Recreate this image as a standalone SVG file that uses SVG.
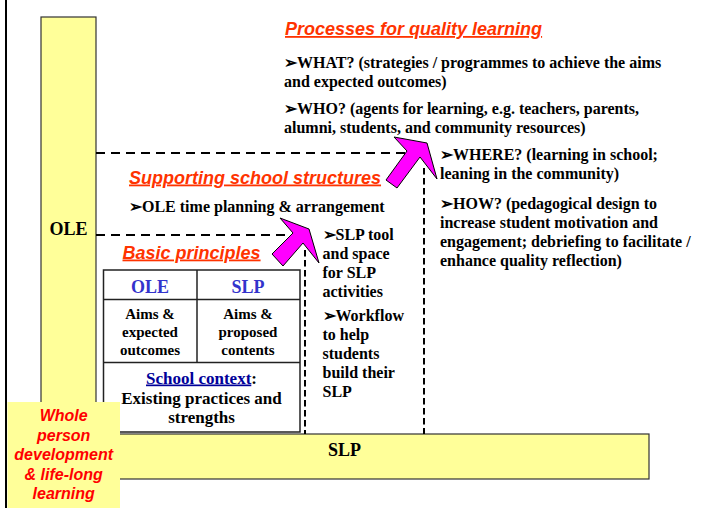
<svg xmlns="http://www.w3.org/2000/svg" width="719" height="508" viewBox="0 0 719 508">
<style>
.bar{fill:#FFFF99;stroke:#333;stroke-width:1.2}
.t{font-family:"Liberation Serif","Times New Roman",serif;font-weight:bold;fill:#000}
.t16{font-size:16px}
.t15{font-size:15px}
.t17{font-size:17px}
.t18{font-size:18px}
.h{font-family:"Liberation Sans",Arial,sans-serif;font-weight:bold;font-style:italic;font-size:18px;fill:#FF3300;text-decoration:underline}
.wp{font-family:"Liberation Sans",Arial,sans-serif;font-weight:bold;font-style:italic;font-size:16px;fill:#FF0000}
.blue{fill:#3333CC}
.dh{stroke:#000;stroke-width:2.2;stroke-dasharray:9,6;fill:none}
.dv{stroke:#000;stroke-width:2;stroke-dasharray:6.5,3.5;fill:none}
.arr{fill:#FF00FF;stroke:#000;stroke-width:1}
.grid{fill:#fff;stroke:#222;stroke-width:1.5}
.gl{stroke:#222;stroke-width:1.5}
</style>
<rect width="719" height="508" fill="#fff"/>
<line x1="6" y1="0" x2="6" y2="508" stroke="#000" stroke-width="2"/>

<g id="ole-bar">
<rect class="bar" x="41" y="17" width="55" height="440"/>
<text class="t t18" x="68.5" y="235" text-anchor="middle">OLE</text>
</g>

<g id="slp-bar">
<rect class="bar" x="41" y="434" width="608" height="45"/>
<text class="t t18" x="344.5" y="456" text-anchor="middle">SLP</text>
</g>

<g id="connectors">
<line class="dh" x1="96" y1="153" x2="412" y2="153"/>
<line class="dh" x1="96" y1="235" x2="290" y2="235"/>
<line class="dv" x1="305" y1="250" x2="305" y2="434"/>
<line class="dv" x1="424" y1="168" x2="424" y2="434"/>
<polygon class="arr" points="280,218 309,229 319,263 303,243 283,266 272,254 293,233"/>
<polygon class="arr" points="394,137 427,143 437,179 420,157 397,188 386,180 407,151"/>
</g>

<g id="processes">
<text class="h" x="285" y="35">Processes for quality learning</text>
<text class="t t16" x="284" y="68">➢WHAT? (strategies / programmes to achieve the aims</text>
<text class="t t16" x="284" y="87">and expected outcomes)</text>
<text class="t t16" x="284" y="114">➢WHO? (agents for learning, e.g. teachers, parents,</text>
<text class="t t16" x="284" y="133">alumni, students, and community resources)</text>
<text class="t t16" x="440" y="159.5">➢WHERE? (learning in school;</text>
<text class="t t16" x="440" y="179">leaning in the community)</text>
<text class="t t16" x="440" y="208.5">➢HOW? (pedagogical design to</text>
<text class="t t16" x="440" y="227.5">increase student motivation and</text>
<text class="t t16" x="440" y="246.5">engagement; debriefing to facilitate /</text>
<text class="t t16" x="440" y="265.5">enhance quality reflection)</text>
</g>

<g id="supporting">
<text class="h" x="129" y="183.5">Supporting school structures</text>
<text class="t t16" x="129" y="212">➢OLE time planning &amp; arrangement</text>
<text class="t t16" x="322.5" y="240">➢SLP tool</text>
<text class="t t16" x="322.5" y="259">and space</text>
<text class="t t16" x="322.5" y="278">for SLP</text>
<text class="t t16" x="322.5" y="297">activities</text>
<text class="t t16" x="322.5" y="321">➢Workflow</text>
<text class="t t16" x="322.5" y="340">to help</text>
<text class="t t16" x="322.5" y="359">students</text>
<text class="t t16" x="322.5" y="378">build their</text>
<text class="t t16" x="322.5" y="397">SLP</text>
</g>

<g id="basic-principles">
<text class="h" x="122.5" y="258.5">Basic principles</text>
<rect class="grid" x="103.5" y="270" width="196.5" height="162"/>
<line class="gl" x1="103.5" y1="299.5" x2="300" y2="299.5"/>
<line class="gl" x1="103.5" y1="362.5" x2="300" y2="362.5"/>
<line class="gl" x1="197" y1="270" x2="197" y2="362.5"/>
<text class="t t18 blue" x="150" y="292.5" text-anchor="middle">OLE</text>
<text class="t t18 blue" x="248" y="292.5" text-anchor="middle">SLP</text>
<text class="t t15" x="150" y="318.5" text-anchor="middle">Aims &amp;</text>
<text class="t t15" x="150" y="336.5" text-anchor="middle">expected</text>
<text class="t t15" x="150" y="355" text-anchor="middle">outcomes</text>
<text class="t t15" x="248" y="318.5" text-anchor="middle">Aims &amp;</text>
<text class="t t15" x="248" y="336.5" text-anchor="middle">proposed</text>
<text class="t t15" x="248" y="355" text-anchor="middle">contents</text>
<text class="t t17" x="201.5" y="383.5" text-anchor="middle"><tspan fill="#000099" text-decoration="underline">School context</tspan>:</text>
<text class="t t17" x="201.5" y="403.5" text-anchor="middle">Existing practices and</text>
<text class="t t17" x="201.5" y="422.5" text-anchor="middle">strengths</text>
</g>

<g id="whole-person">
<rect x="7.5" y="402" width="112.5" height="106" fill="#FFFF99"/>
<text class="wp" x="63.7" y="420.5" text-anchor="middle">Whole</text>
<text class="wp" x="63.7" y="440.5" text-anchor="middle">person</text>
<text class="wp" x="63.7" y="459.5" text-anchor="middle">development</text>
<text class="wp" x="63.7" y="479.5" text-anchor="middle">&amp; life-long</text>
<text class="wp" x="63.7" y="498.5" text-anchor="middle">learning</text>
</g>
</svg>
